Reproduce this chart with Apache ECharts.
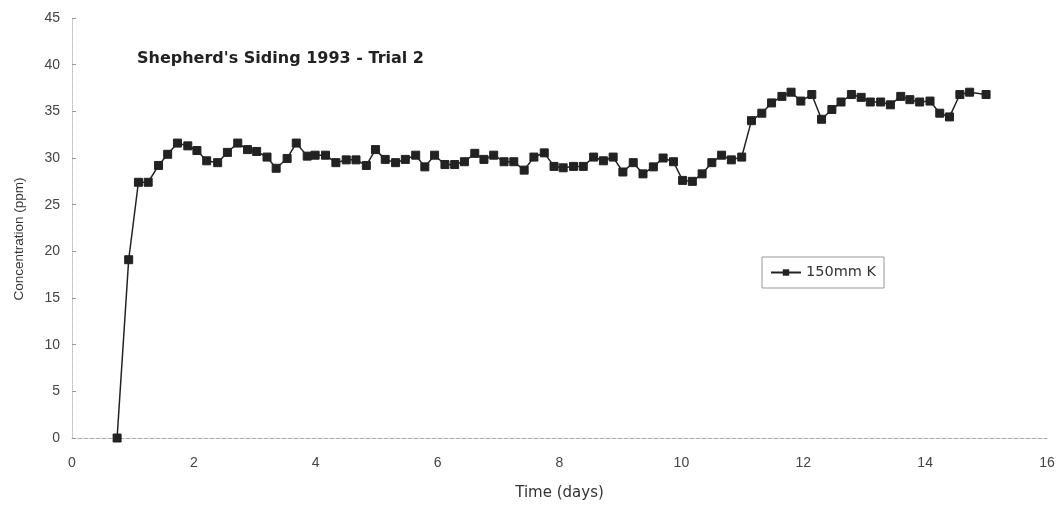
<!DOCTYPE html>
<html>
<head>
<meta charset="utf-8">
<script src="https://cdn.jsdelivr.net/npm/echarts@6/dist/echarts.min.js"></script>
<style>
  html, body { margin: 0; padding: 0; background: #fff; }
  #chart { width: 1063px; height: 506px; }
</style>
</head>
<body>
<div id="chart"></div>
<script>
// Time since start of trial (days)
const times = [
  0.74, 0.93, 1.09, 1.25, 1.42, 1.57, 1.73, 1.90, 2.05, 2.21, 2.39, 2.55, 2.72, 2.88, 3.03, 3.20, 3.35, 3.53, 3.68, 3.86,
  3.99, 4.16, 4.33, 4.50, 4.66, 4.83, 4.98, 5.14, 5.31, 5.47, 5.64, 5.79, 5.95, 6.12, 6.28, 6.44, 6.61, 6.76, 6.92, 7.09,
  7.25, 7.42, 7.58, 7.75, 7.91, 8.06, 8.23, 8.39, 8.56, 8.72, 8.88, 9.04, 9.21, 9.37, 9.54, 9.70, 9.87, 10.02, 10.18, 10.34,
  10.50, 10.66, 10.82, 10.99, 11.15, 11.32, 11.48, 11.65, 11.80, 11.96, 12.14, 12.30, 12.47, 12.62, 12.79, 12.95, 13.10, 13.27,
  13.43, 13.60, 13.75, 13.91, 14.08, 14.24, 14.40, 14.57, 14.73, 15.00
];

// Concentration at 150mm depth, K (ppm)
const conc150K = [
  0, 19.1, 27.4, 27.4, 29.2, 30.4, 31.6, 31.3, 30.8, 29.7, 29.5, 30.6, 31.6, 30.9, 30.7, 30.1, 28.9, 29.95, 31.6, 30.2,
  30.3, 30.3, 29.5, 29.8, 29.8, 29.2, 30.9, 29.85, 29.5, 29.85, 30.3, 29.05, 30.3, 29.3, 29.3, 29.6, 30.5, 29.85, 30.3, 29.6,
  29.6, 28.7, 30.1, 30.55, 29.1, 28.95, 29.1, 29.1, 30.1, 29.7, 30.1, 28.5, 29.5, 28.3, 29.05, 30.0, 29.6, 27.6, 27.5, 28.3,
  29.5, 30.3, 29.8, 30.1, 34.0, 34.8, 35.9, 36.6, 37.05, 36.1, 36.8, 34.15, 35.2, 36.0, 36.8, 36.5, 36.0, 36.0,
  35.7, 36.6, 36.25, 36.0, 36.1, 34.8, 34.4, 36.8, 37.05, 36.8
];

const seriesName = '150mm K';
const chartTitle = "Shepherd's Siding 1993 - Trial 2";
const xLabel = 'Time (days)';
const yLabel = 'Concentration (ppm)';

const points = times.map((t, i) => [t, conc150K[i]]);

const arial = 'Arial, "Liberation Sans", Helvetica, sans-serif';
const wide = '"DejaVu Sans", Arial, sans-serif';
const chart = echarts.init(document.getElementById('chart'));
chart.setOption({
  backgroundColor: '#fff',
  animation: false,
  textStyle: { fontFamily: arial },
  title: {
    text: chartTitle,
    left: 132,
    top: 46,
    textStyle: { fontFamily: wide, fontSize: 16, fontWeight: 'bold', color: '#222' }
  },
  legend: {
    data: [seriesName],
    left: 762,
    top: 257,
    orient: 'vertical',
    padding: [8, 8, 8, 8],
    borderColor: '#999',
    borderWidth: 1,
    itemWidth: 30,
    itemHeight: 8,
    itemGap: 0,
    textStyle: { fontFamily: wide, fontSize: 14.5, color: '#333' }
  },
  grid: { left: 72, right: 16, top: 18, bottom: 67, containLabel: false },
  xAxis: {
    type: 'value',
    min: 0,
    max: 16,
    interval: 2,
    name: xLabel,
    nameLocation: 'middle',
    nameGap: 48,
    nameTextStyle: { fontFamily: wide, fontSize: 15, color: '#333' },
    axisLine: { show: true, lineStyle: { color: '#aaa', width: 1, type: 'dashed' } },
    axisTick: { show: false },
    axisLabel: { fontFamily: arial, fontSize: 14, color: '#444', margin: 18 },
    splitLine: { show: false }
  },
  yAxis: {
    type: 'value',
    min: 0,
    max: 45,
    interval: 5,
    name: yLabel,
    nameLocation: 'middle',
    nameGap: 46,
    nameRotate: 90,
    nameTextStyle: { fontFamily: arial, fontSize: 13.5, color: '#333', padding: [0, 22, 0, 0] },
    axisLine: { show: true, lineStyle: { color: '#bbb', width: 1, type: 'dotted' } },
    axisTick: { show: true, inside: true, length: 4, lineStyle: { color: '#999' } },
    axisLabel: { fontFamily: arial, fontSize: 14, color: '#444', margin: 12 },
    splitLine: { show: false }
  },
  series: [{
    name: seriesName,
    type: 'line',
    data: points,
    symbol: 'rect',
    symbolSize: 8,
    showAllSymbol: true,
    lineStyle: { color: '#222', width: 1.5 },
    itemStyle: { color: '#222', borderColor: '#222' }
  }]
});
</script>
</body>
</html>
